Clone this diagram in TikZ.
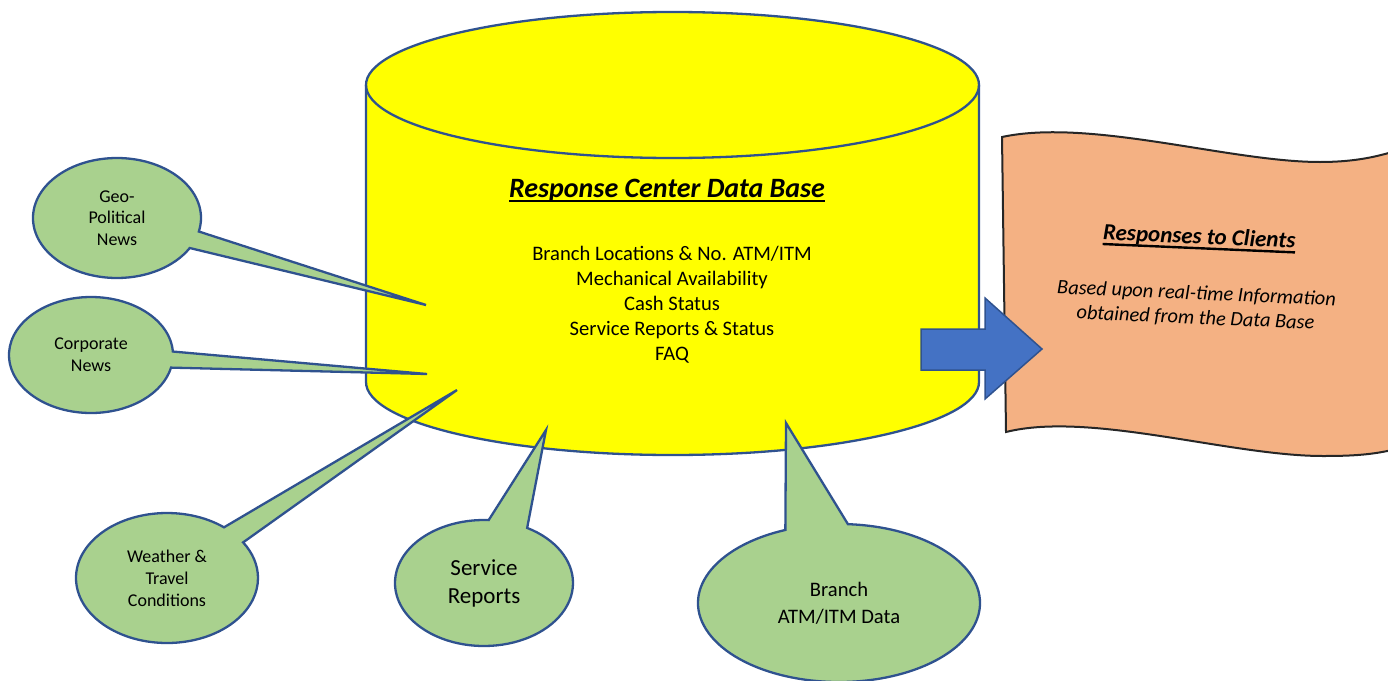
\documentclass[tikz,border=0pt]{standalone}
\usepackage{fontspec}
\setmainfont{Carlito}
\usetikzlibrary{shapes.callouts,calc}
\definecolor{dbblue}{HTML}{2F528F}
\definecolor{cylyellow}{HTML}{FFFF00}
\definecolor{bubgreen}{HTML}{A9D18E}
\definecolor{arrowblue}{HTML}{4472C4}
\definecolor{salmonfill}{HTML}{F4B183}
\newsavebox\myulbox
\newcommand\myul[1]{\sbox\myulbox{#1}\rlap{\vrule height -3pt depth 5.4pt width \wd\myulbox}\usebox\myulbox}
\tikzset{
  bubble/.style={ellipse callout, draw=dbblue, fill=bubgreen, line width=2.3pt,
    inner sep=0pt, align=center, text=black},
  listtext/.style={anchor=base, inner sep=0pt, font=\fontsize{20.6}{25}\selectfont},
  wavetext/.style={inner sep=0pt, rotate=-2.5}
}
\begin{document}
\begin{tikzpicture}[x=1pt,y=-1pt]
\useasboundingbox (0,0) rectangle (1388,680);
% cylinder
\path[draw=dbblue, line width=2.3pt, fill=cylyellow]
  (366,85) -- (366,382)
  arc[start angle=180,end angle=360,x radius=306.5pt,y radius=73pt]
  -- (979,85)
  arc[start angle=0,end angle=180,x radius=306.5pt,y radius=73pt] -- cycle;
\draw[dbblue, line width=2.3pt] (366,85)
  arc[start angle=180,end angle=360,x radius=306.5pt,y radius=73pt];
\node[anchor=base, inner sep=0pt, font=\fontsize{28}{34}\selectfont\bfseries\itshape] (title) at (667,197) {\myul{Response Center Data Base}};
\node[listtext] (l1) at (672,260) {Branch Locations \& No. ATM/ITM};
\node[listtext] (l2) at (672,285) {Mechanical Availability};
\node[listtext] (l3) at (672,310) {Cash Status};
\node[listtext] (l4) at (672,335) {Service Reports \& Status};
\node[listtext] (l5) at (672,360) {FAQ};
% callouts
\node[bubble, minimum width=168pt, minimum height=120pt, callout absolute pointer={(426,305)}, callout pointer arc=17, font=\fontsize{18}{21.5}\selectfont] (geo) at (117,218) {Geo-\\Political\\News};
\node[bubble, minimum width=164pt, minimum height=116pt, callout absolute pointer={(427,374)}, callout pointer arc=16, font=\fontsize{18}{22}\selectfont] (corp) at (91,355) {Corporate\\News};
\node[bubble, minimum width=182pt, minimum height=130pt, callout absolute pointer={(457,390)}, callout pointer arc=18, font=\fontsize{18}{22}\selectfont] (weather) at (167,578) {Weather \&\\Travel\\Conditions};
\node[bubble, minimum width=178pt, minimum height=126pt, callout absolute pointer={(546,430)}, callout pointer arc=26, font=\fontsize{23}{28}\selectfont] (service) at (484,583) {Service\\Reports};
\node[bubble, minimum width=282pt, minimum height=158pt, callout absolute pointer={(786,423)}, callout pointer arc=26, font=\fontsize{20.6}{27}\selectfont] (branch) at (839,603) {Branch\\ATM/ITM Data};
% wave document
\path[draw=black!85, line width=2pt, fill=salmonfill]
  (1002,137) .. controls (1090,118) and (1230,162) .. (1320,162)
  .. controls (1350,162) and (1372,158) .. (1392,152)
  -- (1392,450)
  .. controls (1370,455) and (1350,456) .. (1323,456)
  .. controls (1230,456) and (1090,411) .. (1006,432) -- cycle;
\node[wavetext, anchor=base, font=\fontsize{23}{28}\selectfont\bfseries\itshape] (resp) at (1199,244) {\myul{Responses to Clients}};
\node[wavetext, align=center, font=\fontsize{20.4}{24.5}\selectfont\itshape] (based) at (1196,306) {Based upon real-time Information\\obtained from the Data Base};
% arrow
\path[draw=dbblue, fill=arrowblue, line width=1.5pt]
  (921,329) -- (985,329) -- (985,298) -- (1042,349) -- (985,399) -- (985,370) -- (921,370) -- cycle;
\end{tikzpicture}
\end{document}
